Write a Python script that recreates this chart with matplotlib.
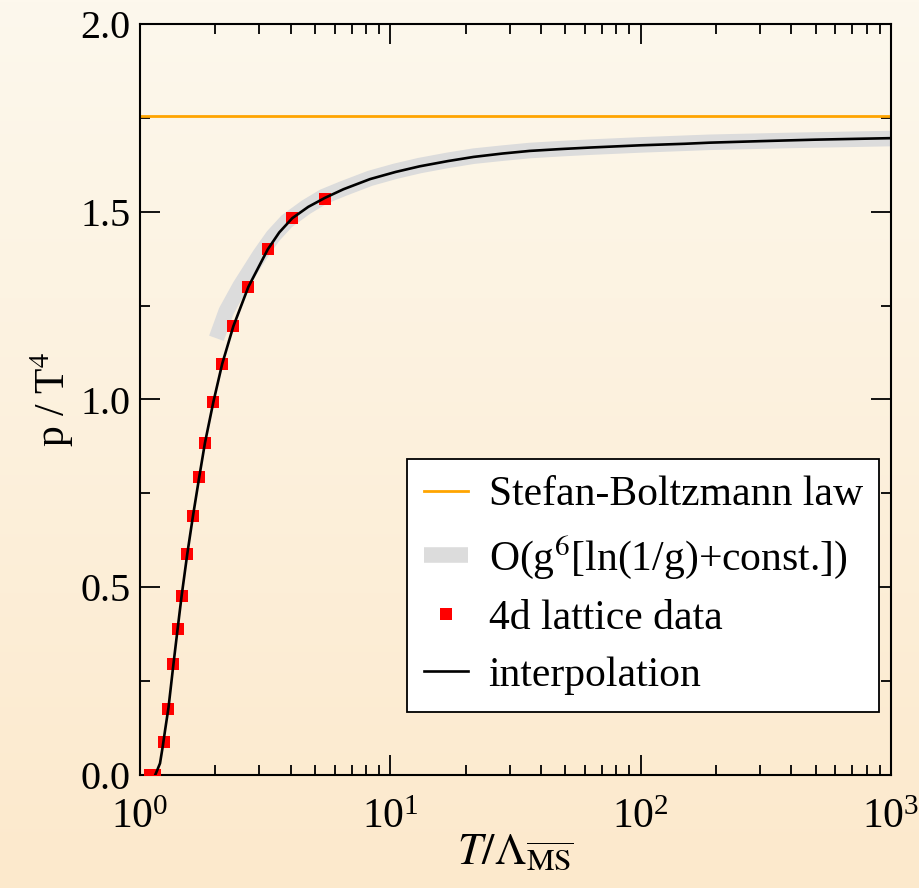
import matplotlib
matplotlib.use('Agg')
import matplotlib.pyplot as plt
import numpy as np
from matplotlib.lines import Line2D
from matplotlib.ticker import MultipleLocator, LogLocator

# ------------------------------------------------------------
# Daten
# ------------------------------------------------------------
lattice_T = [1.10, 1.15, 1.247, 1.297, 1.36, 1.414, 1.467, 1.545, 1.628,
             1.725, 1.818, 1.963, 2.13, 2.36, 2.71, 3.24, 4.06, 5.48]
lattice_p = [0.0, 0.0, 0.088, 0.176, 0.295, 0.39, 0.478, 0.589, 0.69,
             0.794, 0.885, 0.993, 1.095, 1.195, 1.30, 1.402, 1.483, 1.533]

interp_T = [1.15, 1.172, 1.202, 1.232, 1.26, 1.30, 1.36, 1.414, 1.467, 1.545,
            1.628, 1.725, 1.818, 1.963, 2.13, 2.36, 2.71, 3.0, 3.24, 3.6,
            4.06, 4.7, 5.48, 6.5, 8.3, 10.5, 13.1, 17.0, 21.5, 28.0, 36.0,
            48.0, 62.8, 100.0, 150.0, 189.0, 300.0, 500.0, 1000.0]
interp_p = [0.0, 0.013, 0.031, 0.075, 0.12, 0.18, 0.295, 0.39, 0.478, 0.589,
            0.69, 0.794, 0.885, 0.993, 1.095, 1.195, 1.30, 1.357, 1.40, 1.445,
            1.483, 1.513, 1.537, 1.560, 1.587, 1.606, 1.621, 1.635, 1.646,
            1.655, 1.662, 1.667, 1.671, 1.677, 1.681, 1.684, 1.688, 1.692,
            1.696]

band_T = [2.02, 2.21, 2.51, 3.01, 3.4, 3.86, 4.6, 5.4, 6.5, 8.3, 10.5, 13.1,
          17.0, 21.5, 28.0, 36.0, 48.0, 62.8, 100.0, 189.0, 400.0, 1000.0]
band_p = [1.163, 1.235, 1.302, 1.385, 1.435, 1.475, 1.512, 1.540, 1.562,
          1.589, 1.608, 1.623, 1.637, 1.648, 1.656, 1.663, 1.668, 1.672,
          1.678, 1.685, 1.690, 1.695]

sb_value = 1.7546   # 8 pi^2 / 45

labels = ['Stefan-Boltzmann law', r'O(g$^{6}$[ln(1/g)+const.])',
          '4d lattice data', 'interpolation']

# ------------------------------------------------------------
# Stil
# ------------------------------------------------------------
C_SB = '#FFA500'
C_BAND = '#DCDCDC'
C_DATA = '#FF0000'
C_LINE = '#000000'
BG_TOP = np.array([253, 248, 237]) / 255
BG_BOT = np.array([252, 233, 204]) / 255

plt.rcParams['font.family'] = ['Liberation Serif', 'DejaVu Serif']
plt.rcParams['mathtext.fontset'] = 'stix'
plt.rcParams['font.size'] = 30

fig = plt.figure(figsize=(9.19, 8.88), dpi=100)

# Hintergrund-Verlauf
bg = fig.add_axes([0, 0, 1, 1], zorder=-10)
grad = np.linspace(0, 1, 256)[:, None, None]
img = BG_TOP[None, None, :] * (1 - grad) + BG_BOT[None, None, :] * grad
bg.imshow(img, aspect='auto', extent=[0, 1, 0, 1], origin='upper')
bg.axis('off')

ax = fig.add_axes([140 / 919, 113 / 888, 751 / 919, 751 / 888])
ax.set_facecolor('none')

ax.axhline(sb_value, color=C_SB, lw=2.0, zorder=2)
ax.plot(band_T, band_p, color=C_BAND, lw=11.2, solid_capstyle='butt',
        solid_joinstyle='round', zorder=1)
ax.plot(lattice_T, lattice_p, 's', color=C_DATA, ms=8.3, mew=0, zorder=3)
ax.plot(interp_T, interp_p, color=C_LINE, lw=1.9, zorder=4,
        solid_joinstyle='round')

ax.set_xscale('log')
ax.set_xlim(1, 1000)
ax.set_ylim(0, 2.0)
ax.yaxis.set_major_locator(MultipleLocator(0.5))
ax.yaxis.set_minor_locator(MultipleLocator(0.25))
ax.xaxis.set_major_locator(LogLocator(base=10))
ax.xaxis.set_minor_locator(LogLocator(base=10, subs=np.arange(2, 10)))
ax.yaxis.set_major_formatter(plt.FuncFormatter(lambda v, p: f'{v:.1f}'))

for s in ax.spines.values():
    s.set_linewidth(1.5)
ax.tick_params(which='both', direction='in', top=True, right=True, width=1.3)
ax.tick_params(which='major', length=14.5)
ax.tick_params(which='minor', length=7.2)
ax.tick_params(axis='y', pad=7, labelsize=29)
ax.tick_params(axis='x', pad=17, labelsize=30)

ax.set_xlabel(r'$T/\Lambda_{\overline{\mathrm{MS}}}$', fontsize=32, labelpad=-3)
ax.set_ylabel(r'p / T$^{4}$', fontsize=30, labelpad=3)

handles = [
    Line2D([], [], color=C_SB, lw=2.0),
    Line2D([], [], color=C_BAND, lw=11.2, solid_capstyle='butt'),
    Line2D([], [], ls='none', marker='s', color=C_DATA, ms=8.3, mew=0),
    Line2D([], [], color=C_LINE, lw=1.9),
]
leg = ax.legend(handles, labels, loc='lower right',
                bbox_to_anchor=(0.9845, 0.0843), borderaxespad=0,
                fontsize=30, frameon=True, fancybox=False, framealpha=1,
                edgecolor='black', handlelength=1.05, handletextpad=0.5,
                borderpad=0.4, labelspacing=0.45)
leg.get_frame().set_linewidth(1.3)

fig.savefig('out.png', dpi=100)
